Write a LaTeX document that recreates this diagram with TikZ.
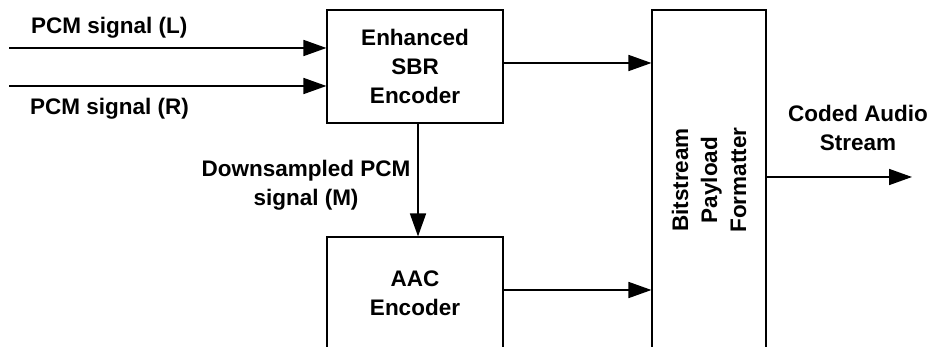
\documentclass[tikz,border=0pt]{standalone}
\usepackage{fontspec}
\setmainfont{Liberation Sans}
\usetikzlibrary{arrows.meta}
\begin{document}
\begin{tikzpicture}[x=1pt,y=-1pt,
  every node/.style={font=\bfseries\fontsize{22.5}{29}\selectfont, inner sep=0pt},
  blk/.style={draw, line width=1.1pt, align=center},
  arr/.style={line width=1.6pt, -{Triangle[length=23pt,width=16pt]}},
  lbl/.style={align=center}]
\useasboundingbox (0,0) rectangle (934,347);
\clip (0,0) rectangle (934,347);
% blocks
\node[blk, minimum width=176pt, minimum height=113pt] (sbr) at (415,66.5) {Enhanced\\SBR\\Encoder};
\node[blk, minimum width=176pt, minimum height=113pt] (aac) at (415,293.5) {AAC\\Encoder};
\node[blk, minimum width=114pt, minimum height=340pt] (fmt) at (709,180) {};
\node[rotate=90, align=center] (fmtt) at (fmt.center) {Bitstream\\Payload\\Formatter};
% coordinates
\coordinate (inL) at (9,48);
\coordinate (inR) at (9,86);
\coordinate (r1) at (0,63);
\coordinate (r2) at (0,290);
\coordinate (dx) at (418,0);
\coordinate (out) at (912,177);
% connectors
\draw[arr] (inL) -- (inL -| sbr.west);
\draw[arr] (inR) -- (inR -| sbr.west);
\draw[arr] (sbr.east |- r1) -- (fmt.west |- r1);
\draw[arr] (aac.east |- r2) -- (fmt.west |- r2);
\draw[arr] (sbr.south -| dx) -- (aac.north -| dx);
\draw[arr] (fmt.east |- out) -- (out);
% labels
\node[anchor=base west] (lL) at (31,33.5) {PCM signal (L)};
\node[anchor=base west] (lR) at (30,115) {PCM signal (R)};
\node[lbl, anchor=north] (lM) at (306,159.5) {Downsampled PCM\\signal (M)};
\node[lbl, anchor=north] (lC) at (858,104.5) {Coded Audio\\Stream};
\end{tikzpicture}
\end{document}
